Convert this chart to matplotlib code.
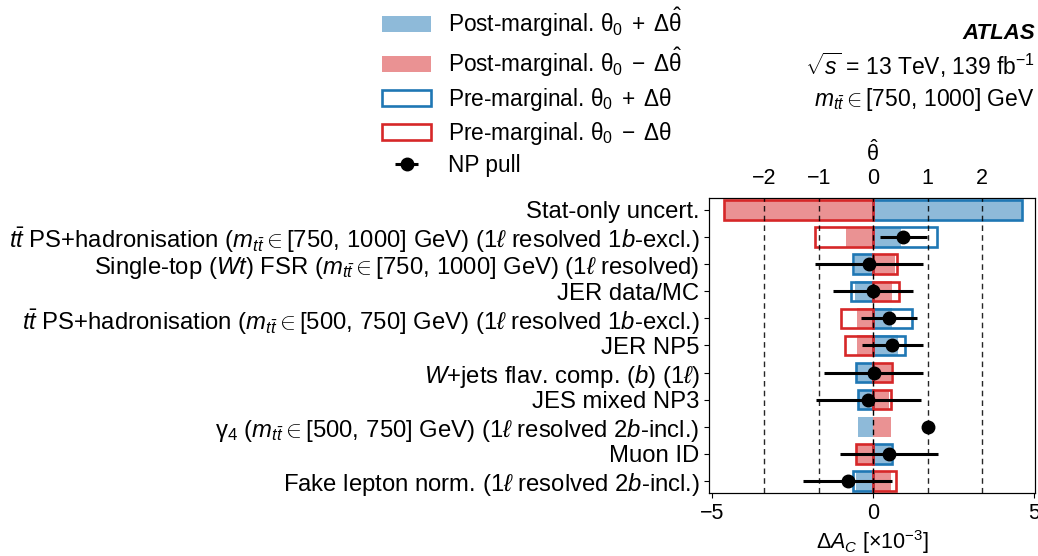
"""Ranking plot of nuisance-parameter impacts on the charge asymmetry."""

import matplotlib

matplotlib.use("Agg")
import matplotlib.pyplot as plt
import numpy as np
from matplotlib.patches import Patch

plt.rcParams["font.family"] = ["Liberation Sans", "DejaVu Sans"]
plt.rcParams["mathtext.fontset"] = "custom"
plt.rcParams["mathtext.rm"] = "Liberation Sans"
plt.rcParams["mathtext.it"] = "Liberation Sans:italic"
plt.rcParams["mathtext.bf"] = "Liberation Sans:bold"

labels = [
    "Stat-only uncert.",
    r"$t\bar{t}$ PS+hadronisation ($m_{t\bar{t}} \in [750,\,1000]$ GeV) (1$\ell$ resolved 1$b$-excl.)",
    r"Single-top ($Wt$) FSR ($m_{t\bar{t}} \in [750,\,1000]$ GeV) (1$\ell$ resolved)",
    "JER data/MC",
    r"$t\bar{t}$ PS+hadronisation ($m_{t\bar{t}} \in [500,\,750]$ GeV) (1$\ell$ resolved 1$b$-excl.)",
    "JER NP5",
    r"$W$+jets flav. comp. ($b$) (1$\ell$)",
    "JES mixed NP3",
    r"$\mathrm{\gamma}_4$ ($m_{t\bar{t}} \in [500,\,750]$ GeV) (1$\ell$ resolved 2$b$-incl.)",
    "Muon ID",
    r"Fake lepton norm. (1$\ell$ resolved 2$b$-incl.)",
]

# impacts on Delta A_C in units of 1e-3
post_up = [4.64, 0.88, -0.57, -0.57, 0.57, 0.78, -0.50, -0.44, -0.47, 0.55, -0.52]
post_down = [-4.64, -0.85, 0.69, 0.60, -0.50, -0.50, 0.54, 0.50, 0.55, -0.50, 0.54]
pre_up = [4.64, 1.99, -0.62, -0.69, 1.21, 0.98, -0.54, -0.47, np.nan, 0.60, -0.62]
pre_down = [-4.64, -1.81, 0.75, 0.81, -1.00, -0.88, 0.59, 0.55, np.nan, -0.54, 0.70]

# pulls on the theta-hat scale
pull = [np.nan, 0.55, -0.07, 0.0, 0.29, 0.35, 0.01, -0.09, 1.0, 0.29, -0.47]
pull_err = [np.nan, 0.43, 0.99, 0.73, 0.52, 0.56, 0.91, 0.96, 0.0, 0.90, 0.81]

BLUE = "#1f77b4"
RED = "#d62728"
FS = 15.5

fig = plt.figure(figsize=(10.38, 5.56), dpi=100)
ax = fig.add_axes([0.6833, 0.1128, 0.3137, 0.5316])

y = np.arange(len(labels))
ax.barh(y, post_up, height=0.74, color=BLUE, alpha=0.5, linewidth=0)
ax.barh(y, post_down, height=0.74, color=RED, alpha=0.5, linewidth=0)
ax.barh(y, pre_up, height=0.72, fill=False, edgecolor=BLUE, linewidth=1.9)
ax.barh(y, pre_down, height=0.72, fill=False, edgecolor=RED, linewidth=1.9)

xlim = (-5.1, 5.03)
scale = 1.697
ax.set_xlim(*xlim)
ax.set_ylim(len(labels) - 0.55, -0.45)
ax.set_yticks(y)
ax.set_yticklabels(labels, fontsize=17.2)
ax.set_xticks([-5, 0, 5])
ax.tick_params(axis="x", labelsize=FS)
ax.set_xlabel(r"$\Delta A_C$ [$\times 10^{-3}$]", fontsize=FS, labelpad=3)

ax2 = ax.twiny()
ax2.set_xlim(xlim[0] / scale, xlim[1] / scale)
ax2.set_xticks([-2, -1, 0, 1, 2])
ax2.tick_params(axis="x", labelsize=FS, length=0, pad=6)
ax2.set_xlabel(r"$\hat{\mathrm{\theta}}$", fontsize=FS, labelpad=5)
for v in [-2, -1, 0, 1, 2]:
    ax2.axvline(v, color="k", linestyle=(0, (4, 3)), linewidth=1.0, alpha=0.85 if v else 1.0)

pulls = ax2.errorbar(pull, y, xerr=pull_err, fmt="o", color="k", markersize=9,
                     elinewidth=2.2, capsize=0)

handles = [
    Patch(facecolor=BLUE, alpha=0.5, linewidth=0),
    Patch(facecolor=RED, alpha=0.5, linewidth=0),
    Patch(fill=False, edgecolor=BLUE, linewidth=1.9),
    Patch(fill=False, edgecolor=RED, linewidth=1.9),
    pulls,
]
names = [
    r"Post-marginal. $\mathrm{\theta}_0\;+\;\Delta\hat{\mathrm{\theta}}$",
    r"Post-marginal. $\mathrm{\theta}_0\;-\;\Delta\hat{\mathrm{\theta}}$",
    r"Pre-marginal. $\mathrm{\theta}_0\;+\;\Delta\mathrm{\theta}$",
    r"Pre-marginal. $\mathrm{\theta}_0\;-\;\Delta\mathrm{\theta}$",
    "NP pull",
]
fig.legend(handles, names, loc="upper left", bbox_to_anchor=(0.348, 1.027),
           frameon=False, fontsize=16.3, handlelength=2.2, labelspacing=0.31,
           handletextpad=0.75)

fig.text(0.997, 0.93, "ATLAS", ha="right", va="baseline", fontsize=16,
         fontweight="bold", fontstyle="italic")
fig.text(0.997, 0.865, r"$\sqrt{s}$ = 13 TeV, 139 fb$^{-1}$", ha="right",
         va="baseline", fontsize=16.5)
fig.text(0.997, 0.81, r"$m_{t\bar{t}} \in [750,\,1000]$ GeV", ha="right",
         va="baseline", fontsize=16.5)

fig.savefig("out.png", dpi=100)
